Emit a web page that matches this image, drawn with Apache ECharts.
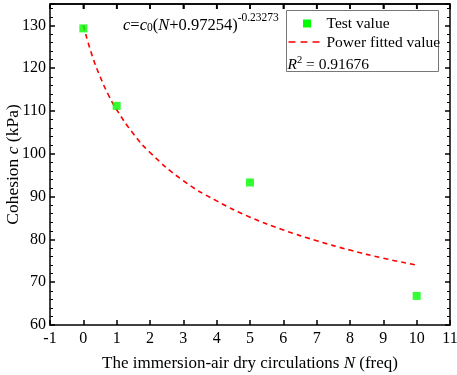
<!DOCTYPE html>
<html><head><meta charset="utf-8">
<script src="https://cdn.jsdelivr.net/npm/echarts@6/dist/echarts.min.js"></script>
<style>html,body{margin:0;padding:0;background:#fff}#c{width:457px;height:375px}</style>
</head><body><div id="c"></div>
<script>
// Measured data
const testN = [0, 1, 5, 10];
const testC = [129.3, 111.2, 93.3, 66.8];
// Fitted curve
const fitN = [0, 0.25, 0.5, 0.75, 1, 1.5, 2, 3, 4, 5, 6, 7, 8, 9, 10];
const fitC = [130.0, 123.3, 118.1, 113.8, 110.3, 104.7, 100.3, 93.7, 89.0, 85.2, 82.2, 79.7, 77.5, 75.6, 74.0];
const xTicks = [-1, 0, 1, 2, 3, 4, 5, 6, 7, 8, 9, 10, 11];
const yTicks = [60, 70, 80, 90, 100, 110, 120, 130];
const legendNames = ['Test value', 'Power fitted value'];
const fitR2 = '0.91676';

const F = '"Liberation Serif", "Times New Roman", serif';
const chart = echarts.init(document.getElementById('c'));
const mkLine = () => ({show: true, onZero: false, lineStyle: {color: '#000', width: 1.5}});
const mkTick = () => ({show: true, inside: true, length: 5, lineStyle: {color: '#000', width: 1.5}});
const mkMinor = () => ({show: true, splitNumber: 5, length: 3, lineStyle: {color: '#000', width: 1}});

chart.setOption({
  animation: false,
  textStyle: {fontFamily: F},
  grid: {left: 50, right: 7, top: 4, bottom: 50, containLabel: false, outerBoundsMode: 'none'},
  xAxis: [
    {type: 'value', gridIndex: 0, position: 'bottom', min: -1, max: 11, interval: 1,
      splitLine: {show: false}, axisLine: mkLine(), axisTick: mkTick(),
      axisLabel: {fontFamily: F, fontSize: 16, color: '#000', margin: 6,
        formatter: v => xTicks.includes(v) ? String(v) : ''},
      name: '{n|The immersion-air dry circulations }{i|N}{n| (freq)}',
      nameLocation: 'middle', nameGap: 30, nameMoveOverlap: false,
      nameTextStyle: {rich: {n: {fontFamily: F, fontSize: 17, color: '#000'},
        i: {fontFamily: F, fontSize: 17, fontStyle: 'italic', color: '#000'}}}},
    {type: 'value', gridIndex: 0, position: 'top', min: -1, max: 11, interval: 1,
      splitLine: {show: false}, axisLine: mkLine(), axisTick: mkTick(), axisLabel: {show: false}}
  ],
  yAxis: [
    {type: 'value', gridIndex: 0, position: 'left', min: 60, max: 135, interval: 10,
      splitLine: {show: false}, axisLine: mkLine(), axisTick: mkTick(), minorTick: mkMinor(),
      axisLabel: {fontFamily: F, fontSize: 16, color: '#000', margin: 4, showMaxLabel: false,
        formatter: v => yTicks.includes(v) ? String(v) : ''},
      name: '{n|Cohesion }{i|c}{n| (kPa)}',
      nameLocation: 'middle', nameGap: 28, nameMoveOverlap: false,
      nameTextStyle: {rich: {n: {fontFamily: F, fontSize: 17.5, color: '#000'},
        i: {fontFamily: F, fontSize: 17.5, fontStyle: 'italic', color: '#000'}}}},
    {type: 'value', gridIndex: 0, position: 'right', min: 60, max: 135, interval: 10,
      splitLine: {show: false}, axisLine: mkLine(), axisTick: mkTick(), minorTick: mkMinor(),
      axisLabel: {show: false}}
  ],
  graphic: [
    {id: 'leg', type: 'group', left: 286, top: 10, z: 100, children: [
      {type: 'rect', shape: {x: 0, y: 0, width: 152, height: 61},
        style: {fill: '#fff', stroke: '#777', lineWidth: 1}},
      {type: 'rect', shape: {x: 16.5, y: 9, width: 8, height: 8}, style: {fill: '#00ff00'}},
      {type: 'text', x: 40, y: 13, style: {text: legendNames[0], fontFamily: F, fill: '#000', fontSize: 15.5, verticalAlign: 'middle'}},
      {type: 'line', shape: {x1: 2, y1: 31.5, x2: 34, y2: 31.5},
        style: {stroke: '#ff0000', lineWidth: 1.6, lineDash: [7, 5]}},
      {type: 'text', x: 40, y: 32, style: {text: legendNames[1], fontFamily: F, fill: '#000', fontSize: 15.5, verticalAlign: 'middle'}},
      {type: 'text', x: 1, y: 44, style: {text: '{i|R}{sup|2}{n| = ' + fitR2 + '}',
        rich: {i: {fontFamily: F, fill: '#000', fontSize: 15.5, fontStyle: 'italic', verticalAlign: 'bottom', lineHeight: 18},
          sup: {fontFamily: F, fill: '#000', fontSize: 10.5, verticalAlign: 'bottom', lineHeight: 18, padding: [0, 0, 7, 0]},
          n: {fontFamily: F, fill: '#000', fontSize: 15.5, verticalAlign: 'bottom', lineHeight: 18}}}}
    ]},
    {id: 'eq', type: 'text', left: 123, top: 12, z: 120,
      style: {text: '{i|c}{n|=}{i|c}{sub|0}{n|(}{i|N}{n|+0.97254)}{sup|-0.23273}',
        rich: {i: {fontFamily: F, fill: '#000', fontSize: 16.5, fontStyle: 'italic', verticalAlign: 'bottom', lineHeight: 20},
          n: {fontFamily: F, fill: '#000', fontSize: 16.5, verticalAlign: 'bottom', lineHeight: 20},
          sub: {fontFamily: F, fill: '#000', fontSize: 11.5, verticalAlign: 'bottom', lineHeight: 14},
          sup: {fontFamily: F, fill: '#000', fontSize: 11.5, verticalAlign: 'bottom', lineHeight: 14, padding: [0, 0, 10, 0]}}}}
  ],
  series: [
    {name: legendNames[1], type: 'line', smooth: true, showSymbol: false, symbol: 'none',
      data: fitN.map((x, i) => [x, fitC[i]]), z: 3,
      lineStyle: {color: '#ff0000', width: 1.6, type: [5, 4]}},
    {name: legendNames[0], type: 'scatter', symbol: 'rect', symbolSize: 8,
      data: testN.map((x, i) => [x, testC[i]]), z: 4,
      itemStyle: {color: '#00ff00'}}
  ]
});

// Top frame edge with inward ticks, positioned through the chart's own scales
const tl = chart.convertToPixel({gridIndex: 0}, [-1, 135]);
const br = chart.convertToPixel({gridIndex: 0}, [11, 60]);
const frame = [{id: 'topEdge', type: 'line', z: 50,
  shape: {x1: tl[0], y1: tl[1], x2: br[0], y2: tl[1]}, style: {stroke: '#000', lineWidth: 1.5}}];
xTicks.forEach((v, i) => {
  const px = chart.convertToPixel({xAxisIndex: 0}, v);
  frame.push({id: 'tt' + i, type: 'line', z: 50,
    shape: {x1: px, y1: tl[1], x2: px, y2: tl[1] + 5}, style: {stroke: '#000', lineWidth: 1.5}});
});
chart.setOption({graphic: frame});
</script></body></html>
